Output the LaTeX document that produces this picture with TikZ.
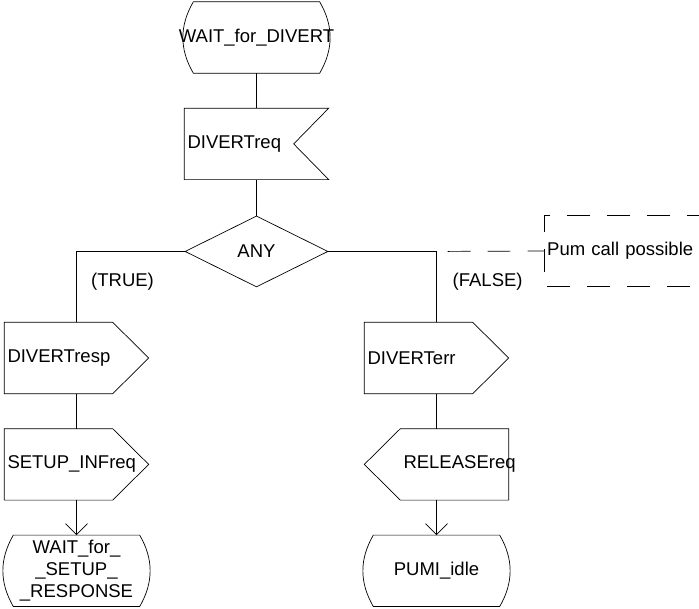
\documentclass[tikz,border=0pt]{standalone}
\usepackage{fontspec}
\setmainfont{Liberation Sans}
\usetikzlibrary{positioning,arrows.meta,shapes.geometric}
\hyphenpenalty=10000

\begin{document}
\begin{tikzpicture}[
x=1pt,y=1pt,
node distance=35pt,
font=\fontsize{18.5}{21.7}\selectfont,
line/.style={line width=0.7pt},
sym/.style={rectangle,minimum width=144pt,minimum height=71pt,inner xsep=3pt,inner ysep=0pt,
text width=138pt,align=left},
symwest/.style={sym,execute at begin node=\hspace*{36pt}},
state/.style={rectangle,minimum width=144pt,minimum height=71pt,inner sep=0pt,align=center},
decision/.style={diamond,draw,line,minimum width=143pt,minimum height=71pt,inner sep=0pt},
lbl/.style={anchor=west,inner sep=1pt},
note/.style={anchor=west,minimum height=70pt,minimum width=155pt,inner xsep=3pt,
text width=149pt,align=left},
arrow/.style={line,-{Straight Barb[length=11pt,width=22pt]}},
comment/.style={line,dash pattern=on 23pt off 17pt}
]
\useasboundingbox (0,0) rectangle (699,-608);

\node[state] (wait) at (256.5,-37.5) {\makebox[0pt]{WAIT\_for\_DIVERT}};
\node[sym,below=of wait] (req) {DIVERTreq};
\node[decision,below=36pt of req] (any) {ANY};
\node[sym,below=35pt of any,xshift=-180pt] (resp) {DIVERTresp};
\node[sym,below=of resp] (setup) {SETUP\_INFreq};
\node[state,below=of setup] (waitsetup) {WAIT\_for\_\\\_SETUP\_\\\_RESPONSE};
\node[sym,below=35pt of any,xshift=180pt] (err) {DIVERTerr};
\node[symwest,below=of err] (rel) {RELEASEreq};
\node[state,below=of rel] (idle) {PUMI\_idle};

\coordinate (truefork) at (resp |- any);
\coordinate (falsefork) at (err |- any);
\node[lbl] (truelbl) at ([shift={(13.5pt,-30pt)}]truefork) {(TRUE)};
\node[lbl] (falselbl) at ([shift={(15pt,-30pt)}]falsefork) {(FALSE)};
\node[note] (pum) at (544,-251) {Pum call possible};

% symbol outlines
\foreach \n in {wait,waitsetup,idle}
  \draw[line] ([xshift=9pt]\n.north west) -- ([xshift=-9pt]\n.north east)
    to[bend left=30] ([xshift=-9pt]\n.south east) -- ([xshift=9pt]\n.south west)
    to[bend left=30] ([xshift=9pt]\n.north west);
\foreach \n in {resp,setup,err}
  \draw[line] (\n.north west) -- ([xshift=-36pt]\n.north east) -- (\n.east)
    -- ([xshift=-36pt]\n.south east) -- (\n.south west) -- cycle;
\draw[line] (rel.north east) -- ([xshift=36pt]rel.north west) -- (rel.west)
  -- ([xshift=36pt]rel.south west) -- (rel.south east) -- cycle;
\draw[line] (req.north west) -- (req.north east) -- ([xshift=-35pt]req.east)
  -- (req.south east) -- (req.south west) -- cycle;

% connectors
\draw[line] (wait) -- (req);
\draw[line] (req) -- (any);
\draw[line] (any.west) -| (resp);
\draw[line] (any.east) -| (err);
\draw[line] (resp) -- (setup);
\draw[arrow] (setup) -- (waitsetup);
\draw[line] (err) -- (rel);
\draw[arrow] (rel) -- (idle);

% comment
\draw[comment,dash phase=29pt] (falsefork) -- (pum.west);
\draw[comment,dash phase=11pt] (pum.north east) -- (pum.north west) -- (pum.south west) -- (pum.south east);
\end{tikzpicture}
\end{document}
